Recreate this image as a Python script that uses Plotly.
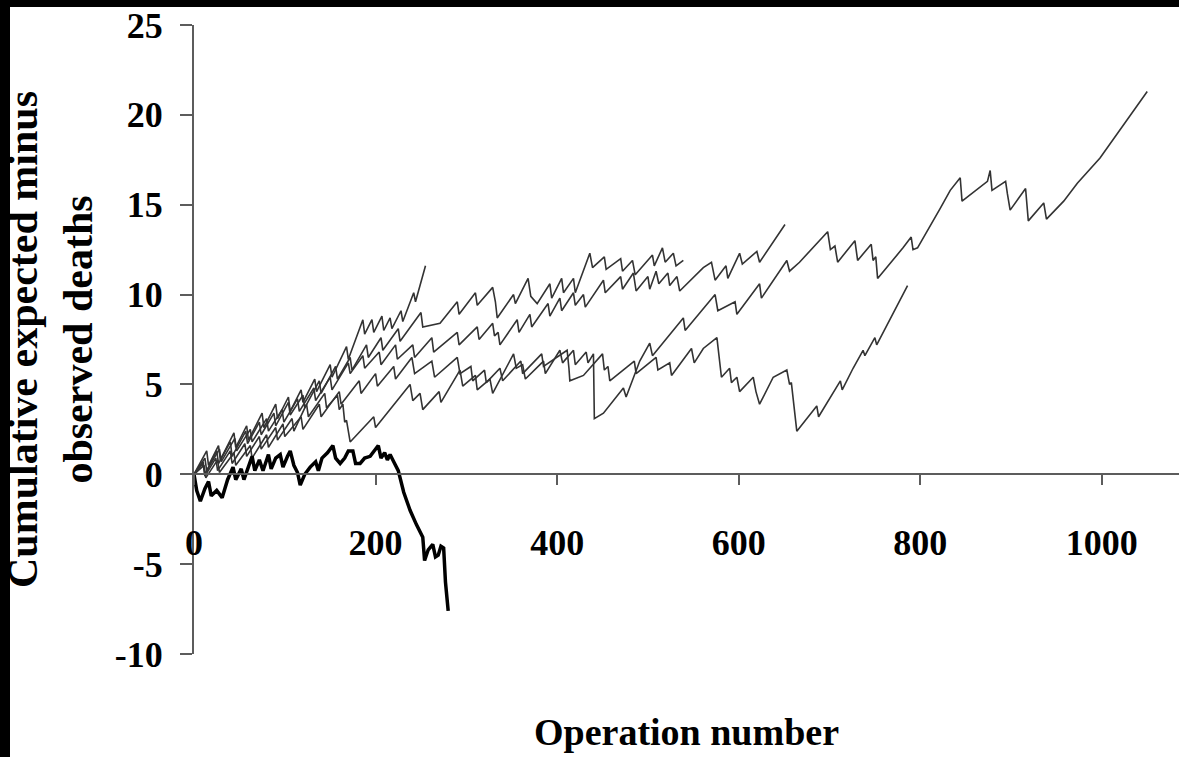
import plotly.graph_objects as go

# ---------------- data ----------------
X_TICKS = [0, 200, 400, 600, 800, 1000]
X_TICK_LABELS = ["0", "200", "400", "600", "800", "1000"]
Y_TICKS = [-10, -5, 0, 5, 10, 15, 20, 25]
Y_TICK_LABELS = ["-10", "-5", "0", "5", "10", "15", "20", "25"]

X_TITLE = "Operation number"
Y_TITLE = "Cumulative expected minus<br>observed deaths"

# (operation number, cumulative expected minus observed deaths)
SURGEON_A = [(0, 0), (14, 1.3), (16, 0.5), (27, 1.6), (29, 0.8), (44, 2.3), (46, 1.5), (58, 2.7),
             (60, 1.9), (75, 3.4), (77, 2.6), (90, 3.9), (92, 3.1), (104, 4.3), (106, 3.5), (118, 4.7),
             (120, 4.0), (133, 5.3), (135, 4.6), (150, 6.1), (152, 5.4), (164, 6.7), (168, 7.1),
             (170, 6.4), (186, 8.6), (188, 7.8), (196, 8.6), (198, 7.9), (207, 8.8), (209, 8.0),
             (216, 8.7), (218, 8.1), (228, 9.1), (230, 8.5), (242, 10.1), (244, 9.6), (255, 11.6)]

SURGEON_B = [(0, 0), (12, 0.9), (14, 0.2), (28, 1.4), (30, 0.7), (45, 2.0), (47, 1.3), (62, 2.5),
             (64, 1.8), (80, 3.1), (82, 2.4), (97, 3.6), (99, 2.9), (114, 4.2), (116, 3.5), (132, 4.8),
             (134, 4.1), (150, 5.4), (152, 4.7), (170, 6.2), (172, 5.6), (186, 6.6), (188, 5.9),
             (204, 6.8), (206, 6.1), (222, 7.2), (224, 6.4), (241, 7.2), (243, 6.5), (262, 7.6),
             (264, 6.8), (290, 7.9), (292, 7.2), (312, 8.2), (314, 7.5), (329, 8.4), (331, 7.7),
             (335, 7.9), (337, 7.2), (356, 8.6), (358, 7.9), (370, 8.9), (372, 8.2), (390, 9.5),
             (392, 8.8), (403, 9.8), (405, 9.1), (418, 10.1), (420, 9.4), (429, 10.0), (431, 9.3),
             (451, 10.8), (453, 10.1), (470, 11.0), (472, 10.3), (484, 11.2), (487, 10.2), (500, 11.0),
             (502, 10.3), (509, 11.3), (512, 10.6), (522, 11.2), (524, 10.5), (532, 11.0), (535, 10.2),
             (561, 11.5), (570, 11.8), (574, 10.8), (586, 11.6), (588, 10.9), (601, 12.3), (604, 11.7),
             (620, 12.4), (623, 11.8), (651, 13.9)]

SURGEON_C = [(0, 0), (10, 0.6), (12, -0.1), (24, 0.9), (26, 0.2), (40, 1.3), (42, 0.6), (56, 1.7),
             (58, 1.0), (72, 2.1), (74, 1.4), (90, 2.6), (92, 1.9), (108, 3.1), (110, 2.4), (124, 3.9),
             (126, 3.2), (144, 4.5), (146, 3.7), (158, 4.4), (160, 3.6), (164, 3.9), (166, 2.9),
             (168, 3.0), (172, 1.8), (198, 3.2), (200, 2.6), (238, 5.0), (241, 4.1), (249, 4.5),
             (252, 3.6), (270, 4.6), (272, 4.0), (293, 5.8), (296, 4.9), (310, 5.5), (312, 4.7),
             (326, 5.3), (329, 4.5), (352, 6.7), (355, 5.9), (362, 6.1), (365, 5.3), (385, 6.3),
             (387, 5.6), (403, 6.9), (406, 6.2), (418, 6.9), (420, 6.1), (432, 6.8), (434, 6.2),
             (440, 6.7), (441, 3.1), (451, 3.4), (473, 4.8), (476, 4.3), (491, 6.3), (502, 7.3),
             (505, 6.6), (539, 8.7), (541, 8.0), (574, 10.0), (577, 9.1), (596, 9.6), (598, 8.9),
             (623, 10.6), (625, 9.8), (653, 11.9), (656, 11.3), (667, 11.8), (698, 13.5), (701, 12.5),
             (706, 12.7), (709, 11.8), (728, 13.0), (731, 11.9), (746, 12.8), (748, 11.9), (751, 12.1),
             (753, 10.9), (781, 12.6), (790, 13.2), (792, 12.5), (797, 12.6), (822, 14.8), (833, 15.8),
             (844, 16.5), (846, 15.2), (874, 16.3), (877, 16.9), (879, 15.8), (894, 16.3), (896, 15.6),
             (899, 14.7), (916, 15.9), (919, 14.1), (936, 15.1), (939, 14.2), (958, 15.2), (973, 16.2),
             (998, 17.6), (1050, 21.3)]

SURGEON_D = [(0, 0), (11, 0.5), (13, -0.2), (26, 0.8), (28, 0.1), (44, 1.2), (46, 0.5), (62, 1.6),
             (64, 0.9), (80, 2.2), (82, 1.5), (98, 2.8), (100, 2.1), (118, 3.2), (120, 2.5), (138, 3.9),
             (140, 3.2), (160, 4.6), (162, 3.9), (182, 5.2), (184, 4.5), (200, 5.6), (202, 4.9),
             (220, 6.0), (222, 5.3), (240, 6.5), (243, 5.6), (262, 6.3), (265, 5.4), (290, 6.5),
             (293, 5.6), (305, 6.0), (307, 5.2), (320, 5.8), (322, 5.1), (337, 5.9), (340, 5.2),
             (360, 6.3), (362, 5.6), (383, 6.7), (385, 6.0), (411, 6.9), (413, 5.9), (414, 5.2),
             (429, 5.5), (450, 6.7), (452, 5.8), (456, 6.0), (458, 5.2), (485, 6.3), (487, 5.6),
             (509, 6.5), (511, 5.8), (524, 6.2), (526, 5.5), (548, 7.0), (551, 6.2), (561, 7.0),
             (576, 7.6), (578, 6.6), (581, 5.4), (590, 5.9), (592, 5.1), (598, 5.4), (601, 4.6),
             (616, 5.4), (619, 4.6), (623, 3.9), (638, 5.4), (653, 5.8), (656, 5.0), (658, 5.1),
             (661, 3.7), (664, 2.4), (686, 3.8), (688, 3.2), (712, 5.2), (714, 4.7), (726, 5.9),
             (737, 6.9), (739, 6.6), (750, 7.6), (752, 7.2), (786, 10.5)]

SURGEON_E = [(0, 0), (10, 0.7), (12, 0.0), (25, 1.3), (27, 0.6), (40, 1.8), (42, 1.0), (57, 2.4),
             (59, 1.7), (72, 2.9), (74, 2.2), (88, 3.4), (90, 2.7), (104, 4.0), (106, 3.3), (120, 4.4),
             (122, 3.7), (138, 5.2), (140, 4.5), (156, 6.0), (158, 5.3), (172, 6.5), (174, 5.8),
             (190, 7.2), (192, 6.5), (206, 7.6), (208, 6.9), (225, 8.1), (227, 7.4), (250, 9.0),
             (252, 8.2), (271, 8.4), (290, 9.6), (292, 8.9), (310, 10.1), (312, 9.4), (329, 10.4),
             (332, 9.6), (334, 8.7), (352, 10.0), (354, 9.5), (368, 10.9), (371, 9.9), (378, 9.5),
             (392, 10.6), (394, 9.8), (405, 10.9), (407, 10.1), (418, 10.9), (420, 10.1), (436, 12.3),
             (439, 11.5), (452, 12.1), (454, 11.4), (470, 12.0), (472, 11.3), (483, 11.9), (486, 11.1),
             (505, 12.2), (507, 11.6), (516, 12.6), (519, 11.8), (528, 12.3), (531, 11.6), (539, 11.9)]

# the surgeon drawn with the heavy line
SURGEON_X = [(0, 0), (3, -0.9), (7, -1.5), (12, -0.8), (16, -0.4), (19, -1.2), (25, -0.9), (31, -1.3),
             (37, -0.3), (43, 0.4), (46, -0.3), (52, 0.3), (55, -0.3), (60, 0.5), (64, 1.0), (67, 0.2),
             (72, 0.8), (76, 0.2), (82, 1.1), (85, 0.3), (90, 0.9), (95, 1.1), (98, 0.4), (103, 1.0),
             (106, 1.3), (110, 0.5), (114, 0.1), (117, -0.6), (122, 0.0), (128, 0.4), (134, 0.7),
             (137, 0.2), (141, 0.9), (147, 1.2), (153, 1.6), (156, 0.9), (161, 0.6), (166, 0.9),
             (170, 1.3), (175, 1.3), (178, 0.6), (183, 0.6), (188, 0.9), (194, 1.0), (198, 1.3),
             (203, 1.6), (206, 0.9), (210, 1.2), (213, 0.8), (216, 1.1), (220, 0.7), (225, 0.2),
             (231, -1.0), (238, -2.0), (245, -2.8), (252, -3.5), (254, -4.8), (258, -4.2), (263, -3.9),
             (266, -4.6), (269, -4.5), (272, -4.0), (275, -4.1), (277, -6.0), (280, -7.6)]

THIN_SERIES = [SURGEON_A, SURGEON_B, SURGEON_C, SURGEON_D, SURGEON_E]

# ---------------- figure ----------------
W, H = 1179, 757
ML, MR, MT, MB = 194, 0, 25, 103
PW, PH = W - ML - MR, H - MT - MB

fig = go.Figure()
for s in THIN_SERIES:
    fig.add_trace(go.Scatter(x=[p[0] for p in s], y=[p[1] for p in s], mode="lines",
                             line=dict(color="#333333", width=1.6), hoverinfo="skip"))
fig.add_trace(go.Scatter(x=[p[0] for p in SURGEON_X], y=[p[1] for p in SURGEON_X], mode="lines",
                         line=dict(color="black", width=3.5), hoverinfo="skip"))

AXIS_GRAY = "#5c5c5c"
fig.update_layout(
    width=W, height=H,
    margin=dict(l=ML, r=MR, t=MT, b=MB),
    paper_bgcolor="white", plot_bgcolor="white",
    showlegend=False,
    font=dict(family="Liberation Serif", color="black"),
    xaxis=dict(
        range=[0, 1085], anchor="free", position=10 / 35,
        showline=True, linecolor=AXIS_GRAY, linewidth=2,
        ticks="outside", ticklen=10, tickwidth=1.5, tickcolor=AXIS_GRAY,
        tickvals=X_TICKS, ticktext=X_TICK_LABELS,
        tickfont=dict(size=36, weight="bold", color="black"),
        ticklabelstandoff=27,
        showgrid=False, zeroline=False,
        title=dict(text=X_TITLE, font=dict(size=38, weight="bold", color="black"), standoff=155),
    ),
    yaxis=dict(
        range=[-10, 25],
        showline=True, linecolor=AXIS_GRAY, linewidth=2,
        ticks="outside", ticklen=12, tickwidth=2, tickcolor=AXIS_GRAY,
        tickvals=Y_TICKS, ticktext=Y_TICK_LABELS,
        tickfont=dict(size=36, weight="bold", color="black"),
        ticklabelstandoff=10,
        showgrid=False, zeroline=False,
        title=dict(text=Y_TITLE, font=dict(size=42, weight="bold", color="black"), standoff=18),
    ),
)

# black scan borders along the left and top edges of the picture
fig.add_shape(type="rect", xref="paper", yref="paper",
              x0=-ML / PW - 0.05, x1=(10 - ML) / PW, y0=-MB / PH - 0.05, y1=1 + MT / PH + 0.05,
              fillcolor="black", line_width=0, layer="above")
fig.add_shape(type="rect", xref="paper", yref="paper",
              x0=-ML / PW - 0.05, x1=1.05, y0=1 + (MT - 7) / PH, y1=1 + MT / PH + 0.05,
              fillcolor="black", line_width=0, layer="above")

fig.write_html(
    "out.html",
    config={"displayModeBar": False},
    post_script="document.body.style.margin='0';document.body.style.overflow='hidden';",
)
